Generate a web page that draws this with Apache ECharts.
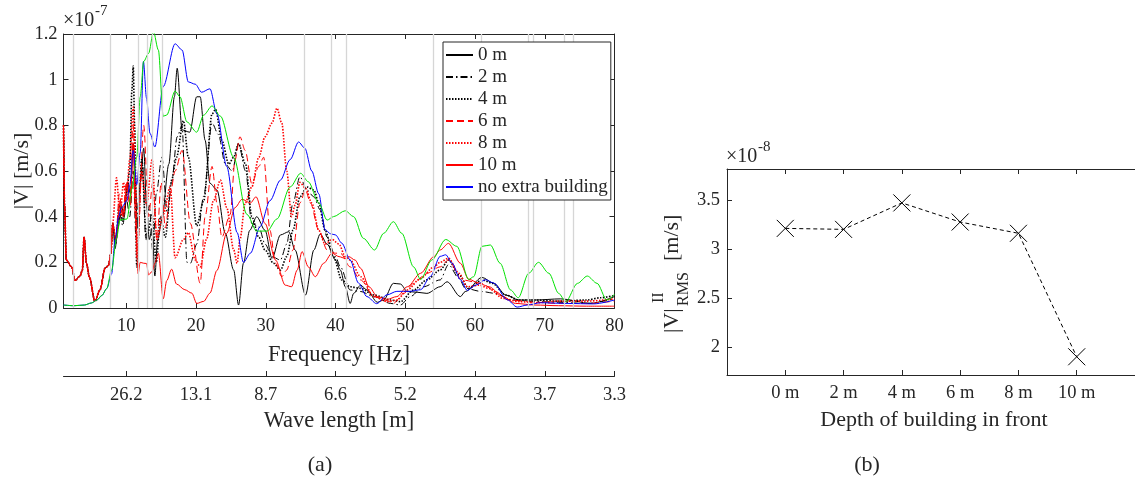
<!DOCTYPE html>
<html><head><meta charset="utf-8">
<script src="https://cdn.jsdelivr.net/npm/echarts@6/dist/echarts.min.js"></script>
<style>html,body{margin:0;padding:0;background:#fff}#c{width:1135px;height:485px}</style>
</head><body><div id="c"></div>
<script>
// ---------- data ----------
const freqTicks = [10, 20, 30, 40, 50, 60, 70, 80];
const waveLabels = ['26.2', '13.1', '8.7', '6.6', '5.2', '4.4', '3.7', '3.3'];
const ampTicks = [0, 0.2, 0.4, 0.6, 0.8, 1, 1.2];
const modeFreqs = [2.4, 7.7, 11.75, 13.0, 13.7, 15.2, 35.55, 39.4, 41.5, 53.95, 60.95, 67.6, 68.3, 72.75, 74.15];

const lowShared = [[1,0.80],[1.15,0.45],[1.4,0.21],[2.17,0.18],[2.65,0.12],[3.37,0.14],[3.7,0.165],[3.95,0.31],[4.3,0.195],[4.7,0.137],[5.5,0.03],[6.24,0.08],[6.96,0.175],[7.43,0.185],[7.8,0.24],[8.05,0.37]];
const lowRef = [[1,0.013],[2.5,0.01],[4,0.013],[5,0.022],[5.8,0.035],[6.5,0.055],[7.2,0.085]];

const d0 = [[8.4,0.26],[8.8,0.35],[9.3,0.45],[9.7,0.4],[10.2,0.55],[10.6,0.5],[11.0,0.72],[11.3,0.55],[11.6,0.35],[12.0,0.55],[12.5,0.70],[12.9,0.45],[13.3,0.3],[13.7,0.35],[14.1,0.14],[14.5,0.3],[15.1,0.385],[16.1,0.63],[16.9,0.925],[17.3,1.05],[18.0,0.78],[19.1,0.77],[20.1,0.925],[20.6,0.925],[21.3,0.735],[22.0,0.546],[23.0,0.517],[24.2,0.327],[25.4,0.166],[26.1,0.013],[26.8,0.196],[27.7,0.34],[28.7,0.4],[29.9,0.34],[30.9,0.217],[32.1,0.32],[33.3,0.334],[34.2,0.254],[35.7,0.057],[36.9,0.254],[37.8,0.324],[38.8,0.28],[40.0,0.21],[40.7,0.166],[41.4,0.093],[42.1,0.02],[42.6,0.064],[43.6,0.1],[44.5,0.079],[46.0,0.025],[46.9,0.035],[48.3,0.108],[49.3,0.105],[50.3,0.072],[51.7,0.069],[53.1,0.064],[55.0,0.093],[56.0,0.115],[57.9,0.05],[58.6,0.072],[61.0,0.134],[62.7,0.108],[64.4,0.057],[66.3,0.035],[68.6,0.035],[72.3,0.04],[76.6,0.02],[80,0.05]];
const d2 = [[8.5,0.28],[9.0,0.42],[9.5,0.36],[10.0,0.48],[10.5,0.4],[11.0,0.6],[11.4,0.3],[11.8,0.5],[12.3,0.65],[12.8,0.3],[13.3,0.45],[13.8,0.25],[14.3,0.5],[15.1,0.66],[15.9,0.41],[16.5,0.55],[17.3,0.75],[18.0,0.8],[18.7,0.2],[19.2,0.196],[20.1,0.28],[21.1,0.49],[22.3,0.81],[23.2,0.76],[24.2,0.63],[25.2,0.6],[26.1,0.72],[27.1,0.6],[28.0,0.37],[29.0,0.356],[29.9,0.28],[30.9,0.225],[32.1,0.21],[33.0,0.28],[33.9,0.46],[34.9,0.575],[35.9,0.517],[36.9,0.487],[37.8,0.43],[38.8,0.31],[40.0,0.225],[40.7,0.18],[42.1,0.079],[43.6,0.072],[45.5,0.05],[47.9,0.02],[49.3,0.013],[50.7,0.05],[52.6,0.093],[55,0.123],[56.2,0.19],[57.7,0.13],[58.6,0.086],[61.0,0.072],[62.9,0.064],[65.3,0.035],[68.6,0.028],[72,0.025],[76,0.02],[80,0.04]];
const d4 = [[8.5,0.3],[9.0,0.45],[9.5,0.38],[10.0,0.5],[10.5,0.6],[10.8,0.95],[11.0,1.06],[11.2,0.8],[11.5,0.18],[12.2,0.65],[12.9,0.3],[13.7,0.41],[14.3,0.2],[14.9,0.4],[15.6,0.31],[16.5,0.56],[17.2,0.66],[18.2,0.82],[18.9,0.66],[20.1,0.36],[21.1,0.47],[22.3,0.85],[22.8,0.87],[23.7,0.735],[24.7,0.63],[25.4,0.66],[26.1,0.72],[27.1,0.63],[28.0,0.4],[29.0,0.31],[29.9,0.254],[31.1,0.196],[32.1,0.166],[33.0,0.225],[33.9,0.34],[34.9,0.487],[35.9,0.53],[36.9,0.517],[37.6,0.46],[38.5,0.34],[39.7,0.225],[40.9,0.123],[42.1,0.093],[43.6,0.086],[45.5,0.057],[47.9,0.035],[49.3,0.028],[51.2,0.079],[53.1,0.123],[55,0.166],[56.2,0.21],[57.7,0.145],[59.1,0.086],[61.0,0.123],[62.5,0.108],[64.4,0.057],[66.3,0.035],[68.6,0.035],[72,0.03],[76,0.035],[78,0.045],[80,0.055]];
const d6 = [[8.5,0.3],[9.0,0.5],[9.5,0.4],[10.0,0.55],[10.5,0.45],[11.0,0.8],[11.3,0.5],[11.6,0.25],[12.5,0.8],[13.2,0.4],[13.8,0.55],[14.4,0.3],[15.0,0.55],[15.6,0.35],[16.3,0.5],[17.0,0.6],[18.0,0.69],[19.2,0.37],[20.6,0.108],[21.3,0.4],[22.3,0.62],[23.0,0.46],[23.7,0.31],[24.9,0.41],[25.6,0.65],[26.3,0.75],[27.05,0.69],[28.0,0.545],[29.0,0.62],[29.7,0.66],[30.6,0.34],[31.4,0.196],[32.3,0.137],[33.0,0.166],[33.9,0.254],[34.9,0.46],[35.7,0.517],[36.4,0.46],[37.6,0.34],[38.8,0.254],[40.0,0.24],[40.7,0.24],[42.1,0.18],[43.6,0.123],[45.5,0.05],[47.4,0.032],[48.3,0.02],[49.8,0.064],[51.2,0.108],[53.1,0.152],[55,0.18],[56.2,0.21],[58.1,0.123],[61.0,0.108],[62.9,0.072],[64.8,0.035],[68.6,0.025],[72,0.02],[76,0.02],[80,0.03]];
const d8 = [[8.6,0.57],[9.1,0.4],[9.6,0.55],[10.0,0.47],[10.5,0.65],[11.0,0.88],[11.3,0.6],[11.5,0.22],[12.2,0.6],[12.9,0.45],[13.7,0.65],[14.4,0.3],[15.3,0.41],[16.3,0.53],[17.0,0.22],[18.2,0.3],[18.9,0.33],[19.9,0.21],[20.6,0.18],[21.5,0.3],[22.5,0.47],[23.5,0.56],[24.4,0.44],[25.4,0.255],[25.9,0.196],[26.3,0.3],[27.05,0.46],[28.0,0.53],[29.0,0.66],[29.9,0.75],[30.9,0.81],[31.6,0.875],[32.3,0.81],[33.0,0.6],[33.7,0.4],[34.2,0.45],[34.9,0.55],[35.7,0.524],[36.6,0.46],[37.6,0.34],[38.5,0.28],[39.5,0.3],[40.5,0.28],[41.4,0.225],[42.1,0.21],[43.6,0.137],[45.5,0.05],[47.4,0.028],[48.8,0.035],[50.3,0.079],[52.2,0.13],[54.1,0.18],[55,0.2],[56.2,0.218],[57.7,0.152],[58.9,0.093],[60.6,0.1],[62,0.086],[64,0.042],[66.3,0.028],[68.6,0.023],[72,0.03],[76,0.03],[80,0.04]];
const d10 = [[8.5,0.3],[9.1,0.47],[9.6,0.4],[10.1,0.55],[10.6,0.45],[11.0,0.72],[11.3,0.4],[11.7,0.15],[12.0,0.2],[12.5,0.196],[12.9,0.195],[13.2,0.145],[13.7,0.16],[14.1,0.196],[14.6,0.24],[15.3,0.04],[15.8,0.12],[16.5,0.17],[17.2,0.105],[18.4,0.08],[19.4,0.065],[20.1,0.02],[21.1,0.029],[22.0,0.065],[23.0,0.165],[24.4,0.327],[25.6,0.44],[26.6,0.476],[27.8,0.46],[28.6,0.487],[29.9,0.37],[31.4,0.21],[32.8,0.1],[33.7,0.093],[34.5,0.166],[35.2,0.247],[36.1,0.18],[37.1,0.137],[38.3,0.196],[39.5,0.24],[40.5,0.225],[41.4,0.217],[41.9,0.225],[42.8,0.21],[43.6,0.174],[44.8,0.093],[46,0.05],[47.4,0.038],[48.8,0.05],[50.3,0.093],[52.2,0.152],[54.1,0.225],[55,0.254],[56.2,0.283],[57.9,0.196],[59.1,0.126],[60.6,0.108],[62,0.093],[64,0.05],[65.8,0.02],[68.6,0.013],[72,0.01],[76,0.008],[80,0.008]];
const noBuilding = [[7.9,0.15],[8.4,0.3],[8.9,0.4],[9.3,0.44],[10.1,0.47],[10.5,0.54],[11.0,0.69],[11.5,0.54],[12.0,0.68],[12.46,1.08],[12.9,0.92],[13.4,0.765],[14.1,0.705],[15.3,0.97],[17.0,1.157],[18.0,1.13],[18.9,0.99],[19.9,0.98],[20.8,0.945],[22.0,0.96],[23.0,0.85],[24.4,0.62],[25.9,0.33],[26.8,0.2],[27.8,0.24],[29.2,0.357],[30.6,0.47],[32.1,0.56],[33.5,0.65],[34.7,0.727],[35.6,0.7],[36.6,0.6],[37.6,0.5],[38.5,0.343],[39.3,0.325],[40.0,0.32],[40.9,0.284],[42.1,0.21],[43.3,0.109],[44.5,0.05],[45.9,0.019],[47.4,0.058],[48.8,0.073],[50.7,0.073],[52.2,0.08],[53.6,0.138],[55.0,0.226],[55.8,0.233],[56.7,0.197],[57.9,0.124],[58.9,0.077],[60.1,0.1],[61.5,0.124],[62.7,0.109],[64.6,0.036],[66.05,0.004],[67.5,0.013],[69.4,0.023],[73.2,0.02],[77,0.018],[80,0.035]];
const greenRef = [[7.9,0.166],[8.6,0.305],[9.1,0.385],[10.1,0.39],[10.8,0.52],[11.5,0.66],[12.0,0.925],[12.5,1.08],[13.2,1.115],[13.9,1.21],[14.6,1.13],[15.3,0.84],[15.8,0.845],[17.0,0.95],[17.7,0.925],[18.7,0.815],[20.1,0.77],[21.1,0.845],[22.3,0.885],[23.5,0.84],[25.4,0.66],[27.3,0.41],[28.7,0.337],[30.2,0.337],[31.6,0.39],[33.5,0.53],[35.0,0.59],[36.1,0.553],[37.6,0.46],[38.8,0.385],[39.7,0.40],[41.4,0.426],[42.6,0.40],[44.0,0.305],[45.6,0.254],[46.9,0.327],[48.3,0.378],[49.5,0.327],[51.2,0.18],[52.2,0.125],[53.8,0.21],[55.8,0.30],[57.4,0.27],[59.1,0.125],[59.8,0.137],[61.0,0.27],[62.2,0.276],[63.6,0.196],[65.1,0.079],[66.2,0.045],[67.7,0.152],[69.1,0.2],[70.6,0.152],[72.0,0.064],[73.0,0.028],[74.7,0.108],[76.1,0.14],[77.5,0.108],[78.9,0.035],[80,0.06]];

const depthX = [0, 2, 4, 6, 8, 10];
const depthLabels = ['0 m', '2 m', '4 m', '6 m', '8 m', '10 m'];
const rmsVals = [3.21, 3.20, 3.47, 3.275, 3.16, 1.90];
const rmsTicks = [2, 2.5, 3, 3.5];

// ---------- chart ----------
const FONT = 'Liberation Serif';
const TXT = '#262626';
const chart = echarts.init(document.getElementById('c'), null, {renderer: 'canvas'});

function freqSeries(name, data, color, type, width) {
  return {
    name, type: 'line', xAxisIndex: 0, yAxisIndex: 0, data,
    symbol: 'none', smooth: 0.3, smoothMonotone: 'x', clip: true, z: 3,
    lineStyle: {color, type, width}, itemStyle: {color}
  };
}

const axisLineStyle = {lineStyle: {color: TXT, width: 1}};
const tickStyle = {lineStyle: {color: TXT, width: 1}};
const labelStyle = {color: TXT, fontFamily: FONT, fontSize: 18.5};

const option = {
  animation: false,
  backgroundColor: '#fff',
  grid: [
    {left: 63.5, top: 34, width: 551, height: 274, containLabel: false},
    {left: 727, top: 169, width: 413, height: 206, containLabel: false}
  ],
  xAxis: [
    {gridIndex: 0, type: 'value', min: 1, max: 80, position: 'bottom',
     axisLine: {show: true, ...axisLineStyle},
     axisTick: {show: true, inside: true, length: 5, customValues: freqTicks, ...tickStyle},
     axisLabel: {show: true, customValues: freqTicks, margin: 9, ...labelStyle},
     splitLine: {show: false}},
    {gridIndex: 0, type: 'value', min: 1, max: 80, position: 'top',
     axisLine: {show: true, onZero: false, ...axisLineStyle},
     axisTick: {show: true, inside: true, length: 5, customValues: freqTicks, ...tickStyle},
     axisLabel: {show: false}, splitLine: {show: false}},
    {gridIndex: 0, type: 'value', min: 1, max: 80, position: 'bottom', offset: 68,
     axisLine: {show: true, onZero: false, ...axisLineStyle},
     axisTick: {show: true, inside: true, length: 5, customValues: freqTicks, ...tickStyle},
     axisLabel: {show: true, customValues: freqTicks, margin: 10, ...labelStyle,
       formatter: v => waveLabels[freqTicks.indexOf(Math.round(v))] || ''},
     splitLine: {show: false}},
    {gridIndex: 1, type: 'value', min: -2, max: 12, position: 'bottom',
     axisLine: {show: true, onZero: false, ...axisLineStyle},
     axisTick: {show: true, inside: true, length: 5, customValues: depthX, ...tickStyle},
     axisLabel: {show: true, customValues: depthX, margin: 9, ...labelStyle,
       formatter: v => depthLabels[depthX.indexOf(Math.round(v))] || ''},
     splitLine: {show: false}},
    {gridIndex: 1, type: 'value', min: -2, max: 12, position: 'top',
     axisLine: {show: true, onZero: false, ...axisLineStyle},
     axisTick: {show: true, inside: true, length: 5, customValues: depthX, ...tickStyle},
     axisLabel: {show: false}, splitLine: {show: false}}
  ],
  yAxis: [
    {gridIndex: 0, type: 'value', min: 0, max: 1.2, position: 'left',
     axisLine: {show: true, onZero: false, ...axisLineStyle},
     axisTick: {show: true, inside: true, length: 5, customValues: ampTicks, ...tickStyle},
     axisLabel: {show: true, customValues: ampTicks, margin: 6, ...labelStyle,
       formatter: v => String(+(+v).toFixed(1))},
     splitLine: {show: false}},
    {gridIndex: 0, type: 'value', min: 0, max: 1.2, position: 'right',
     axisLine: {show: true, onZero: false, ...axisLineStyle},
     axisTick: {show: true, inside: true, length: 5, customValues: ampTicks, ...tickStyle},
     axisLabel: {show: false}, splitLine: {show: false}},
    {gridIndex: 1, type: 'value', min: 1.714, max: 3.816, position: 'left',
     axisLine: {show: true, onZero: false, ...axisLineStyle},
     axisTick: {show: true, inside: true, length: 5, customValues: rmsTicks, ...tickStyle},
     axisLabel: {show: true, customValues: rmsTicks, margin: 7, ...labelStyle,
       formatter: v => String(+(+v).toFixed(1))},
     splitLine: {show: false}}
  ],
  legend: {
    data: ['0 m', '2 m', '4 m', '6 m', '8 m', '10 m', 'no extra building'],
    orient: 'vertical', left: 443, top: 42,
    itemWidth: 27, itemHeight: 10, itemGap: 0,
    padding: [2, 3, 2, 2],
    borderColor: TXT, borderWidth: 1, backgroundColor: '#fff',
    itemStyle: {opacity: 0},
    textStyle: {color: TXT, fontFamily: FONT, fontSize: 19, lineHeight: 22},
    selectedMode: false, z: 10
  },
  graphic: [
    {type: 'text', left: 63, top: 11, style: {text: '×10', fill: TXT, font: '20px "Liberation Serif"'}},
    {type: 'text', left: 95, top: 4, style: {text: '-7', fill: TXT, font: '15px "Liberation Serif"'}},
    {type: 'text', left: 726, top: 147, style: {text: '×10', fill: TXT, font: '20px "Liberation Serif"'}},
    {type: 'text', left: 758, top: 140, style: {text: '-8', fill: TXT, font: '15px "Liberation Serif"'}},
    {type: 'text', x: 22, y: 171, rotation: Math.PI / 2,
     style: {text: '|V| [m/s]', fill: TXT, font: '22px "Liberation Serif"', align: 'center', verticalAlign: 'middle'}},
    {type: 'text', x: 339, y: 355,
     style: {text: 'Frequency [Hz]', fill: TXT, font: '22.5px "Liberation Serif"', align: 'center', verticalAlign: 'middle'}},
    {type: 'text', x: 339, y: 421,
     style: {text: 'Wave length [m]', fill: TXT, font: '22.5px "Liberation Serif"', align: 'center', verticalAlign: 'middle'}},
    {type: 'text', x: 934, y: 420,
     style: {text: 'Depth of building in front', fill: TXT, font: '22px "Liberation Serif"', align: 'center', verticalAlign: 'middle'}},
    {type: 'text', x: 320, y: 465,
     style: {text: '(a)', fill: TXT, font: '22px "Liberation Serif"', align: 'center', verticalAlign: 'middle'}},
    {type: 'text', x: 867, y: 465,
     style: {text: '(b)', fill: TXT, font: '22px "Liberation Serif"', align: 'center', verticalAlign: 'middle'}},
    {type: 'group', x: 672, y: 333, rotation: Math.PI / 2, children: [
      {type: 'text', x: 0, y: 0, style: {text: '|V|', fill: TXT, font: '22px "Liberation Serif"', align: 'left', verticalAlign: 'middle'}},
      {type: 'text', x: 30, y: -13, style: {text: 'II', fill: TXT, font: '16px "Liberation Serif"', align: 'left', verticalAlign: 'middle'}},
      {type: 'text', x: 27, y: 12, style: {text: 'RMS', fill: TXT, font: '16px "Liberation Serif"', align: 'left', verticalAlign: 'middle'}},
      {type: 'text', x: 72, y: 0, style: {text: '[m/s]', fill: TXT, font: '22px "Liberation Serif"', align: 'left', verticalAlign: 'middle'}}
    ]}
  ],
  series: [
    {name: 'modes', type: 'line', xAxisIndex: 0, yAxisIndex: 0, data: [], silent: true, z: 1,
     markLine: {silent: true, symbol: ['none', 'none'], label: {show: false},
       lineStyle: {color: '#d6d6d6', width: 1.3, type: 'solid'},
       emphasis: {disabled: true},
       data: modeFreqs.map(f => ({xAxis: f}))}},
    freqSeries('0 m', lowShared.concat(d0), '#000000', 'solid', 1),
    freqSeries('2 m', lowShared.concat(d2), '#000000', [7, 3, 1.5, 3], 1),
    freqSeries('4 m', lowShared.concat(d4), '#000000', [1.5, 1.5], 1.6),
    freqSeries('6 m', lowShared.concat(d6), '#ff0000', [7, 4], 1),
    freqSeries('8 m', lowShared.concat(d8), '#ff0000', [1.5, 1.5], 1.6),
    freqSeries('10 m', lowShared.concat(d10), '#ff0000', 'solid', 1),
    freqSeries('no extra building', lowRef.concat(noBuilding), '#0000ff', 'solid', 1),
    freqSeries('reference', lowRef.concat(greenRef), '#00e000', 'solid', 1),
    {name: 'rms', type: 'line', xAxisIndex: 3, yAxisIndex: 2,
     data: depthX.map((x, i) => [x, rmsVals[i]]),
     symbol: 'path://M0,0L10,10M10,0L0,10', symbolSize: 17,
     itemStyle: {color: 'none', borderColor: '#000', borderWidth: 1},
     lineStyle: {color: '#000', type: [4, 3], width: 1}}
  ]
};
chart.setOption(option);
</script></body></html>
